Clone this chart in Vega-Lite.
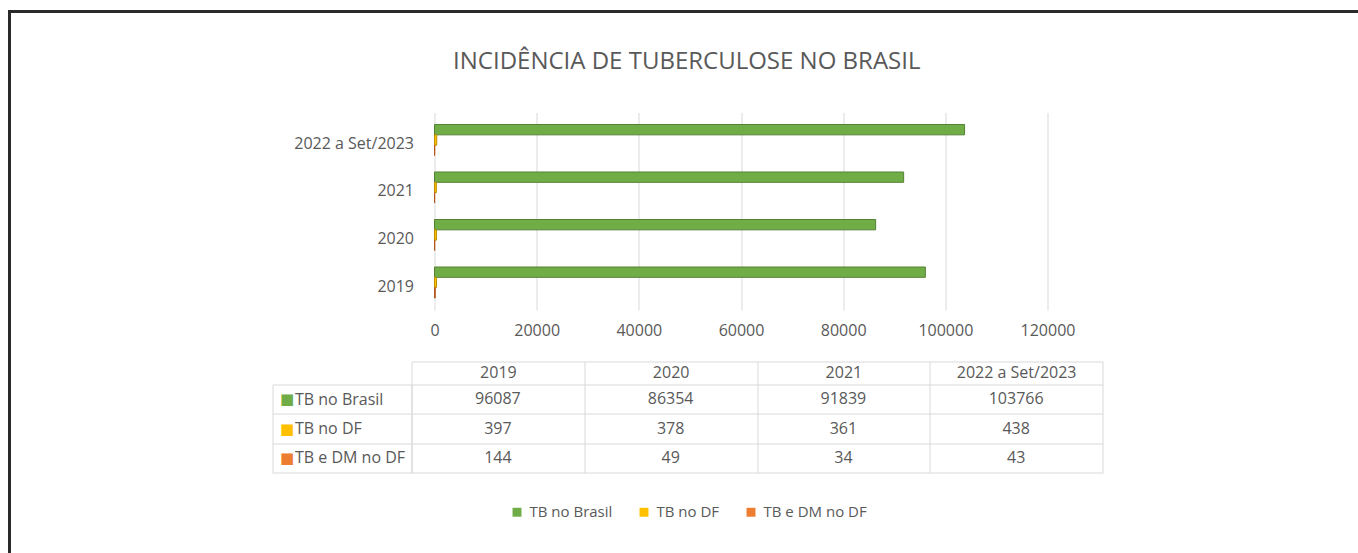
{
  "$schema": "https://vega.github.io/schema/vega-lite/v6.json",
  "width": 1358,
  "height": 553,
  "autosize": {"type": "fit", "contains": "padding"},
  "padding": {"left": 9.5, "top": 3.5, "right": -6, "bottom": -6},
  "background": "white",
  "config": {
    "view": {"stroke": "#2a2a2a", "strokeWidth": 3},
    "font": "Open Sans",
    "axis": {"labelFont": "Open Sans", "labelFontSize": 16, "labelColor": "#595959", "title": null, "domainColor": "#d9d9d9", "tickColor": "#d9d9d9", "gridColor": "#d9d9d9", "labelAngle": 0}
  },
  "title": {"text": "INCIDÊNCIA DE TUBERCULOSE NO BRASIL", "anchor": "middle", "frame": "group", "offset": -70, "font": "Open Sans", "fontSize": 24, "fontWeight": 400, "color": "#595959"},
  "data": {"values": [
    {"year": "2019", "series": "TB no Brasil", "value": 96087},
    {"year": "2019", "series": "TB no DF", "value": 397},
    {"year": "2019", "series": "TB e DM no DF", "value": 144},
    {"year": "2020", "series": "TB no Brasil", "value": 86354},
    {"year": "2020", "series": "TB no DF", "value": 378},
    {"year": "2020", "series": "TB e DM no DF", "value": 49},
    {"year": "2021", "series": "TB no Brasil", "value": 91839},
    {"year": "2021", "series": "TB no DF", "value": 361},
    {"year": "2021", "series": "TB e DM no DF", "value": 34},
    {"year": "2022 a Set/2023", "series": "TB no Brasil", "value": 103766},
    {"year": "2022 a Set/2023", "series": "TB no DF", "value": 438},
    {"year": "2022 a Set/2023", "series": "TB e DM no DF", "value": 43}
  ]},
  "resolve": {"scale": {"x": "independent", "y": "independent"}},
  "layer": [
    {
      "mark": {"type": "bar", "strokeWidth": 1},
      "encoding": {
        "y": {"field": "year", "type": "nominal", "sort": ["2022 a Set/2023", "2021", "2020", "2019"],
              "scale": {"range": [101, 298.5], "paddingInner": 0.3474, "paddingOuter": 0.2526},
              "axis": {"orient": "left", "offset": -404, "ticks": false, "domain": false, "labelPadding": 0, "labelOffset": 4, "labelLimit": 300, "grid": false}},
        "yOffset": {"field": "series", "type": "nominal", "sort": ["TB no Brasil", "TB no DF", "TB e DM no DF"], "scale": {"paddingInner": 0, "paddingOuter": 0}},
        "x": {"field": "value", "type": "quantitative",
              "scale": {"domain": [0, 120000], "range": [425, 1038], "nice": false},
              "axis": {"orient": "top", "offset": -319, "values": [0, 20000, 40000, 60000, 80000, 100000, 120000], "format": "d", "ticks": false, "domain": false, "labelPadding": 0, "labelBaseline": "middle", "labelFlush": false, "labelOverlap": false, "grid": true}},
        "color": {"field": "series", "type": "nominal",
                  "scale": {"domain": ["TB no Brasil", "TB no DF", "TB e DM no DF"], "range": ["#70AD47", "#FFC000", "#ED7D31"]},
                  "legend": {"orient": "none", "legendX": 500, "legendY": 493, "direction": "horizontal", "title": null, "symbolType": "square", "symbolSize": 80, "symbolStrokeWidth": 0, "labelFont": "Open Sans", "labelFontSize": 15, "labelColor": "#595959", "columnPadding": 24, "labelOffset": 5}},
        "stroke": {"field": "series", "type": "nominal",
                   "scale": {"domain": ["TB no Brasil", "TB no DF", "TB e DM no DF"], "range": ["#548235", "#BF9000", "#B4561A"]},
                   "legend": null}
      }
    },
    {
      "mark": {"type": "text", "font": "Open Sans", "fontSize": 16, "color": "#595959"},
      "encoding": {
        "x": {"field": "year", "type": "nominal", "sort": ["2019", "2020", "2021", "2022 a Set/2023"],
              "scale": {"type": "band", "range": [402, 1093], "paddingInner": 0, "paddingOuter": 0},
              "axis": {"orient": "top", "offset": -350, "tickBand": "extent", "ticks": true, "tickSize": -23, "domain": true, "grid": true, "labelPadding": 12, "labelBaseline": "middle", "labelLimit": 300}},
        "y": {"field": "series", "type": "nominal", "sort": ["TB no Brasil", "TB no DF", "TB e DM no DF"],
              "scale": {"type": "band", "range": [373, 461], "paddingInner": 0, "paddingOuter": 0},
              "axis": {"orient": "left", "offset": -402, "tickBand": "extent", "ticks": true, "tickSize": 139, "domain": true, "grid": true, "labelAlign": "left", "labelPadding": -22, "labelBaseline": "middle", "labelLimit": 300}},
        "text": {"field": "value", "type": "quantitative", "format": "d"}
      }
    },
    {
      "mark": {"type": "rect", "fillOpacity": 0, "strokeOpacity": 0},
      "encoding": {
        "y": {"field": "series", "type": "nominal", "sort": ["TB no Brasil", "TB no DF", "TB e DM no DF"],
              "scale": {"type": "band", "range": [373, 461], "paddingInner": 0, "paddingOuter": 0},
              "axis": {"orient": "left", "offset": -263, "ticks": false, "domain": true, "grid": false, "labelExpr": "'■'", "labelFont": "DejaVu Sans", "labelFontSize": 15, "labelAlign": "left", "labelPadding": -7, "labelBaseline": "middle",
                       "labelColor": {"condition": [{"test": "datum.value === 'TB no Brasil'", "value": "#70AD47"}, {"test": "datum.value === 'TB no DF'", "value": "#FFC000"}], "value": "#ED7D31"}}}
      }
    }
  ]
}
